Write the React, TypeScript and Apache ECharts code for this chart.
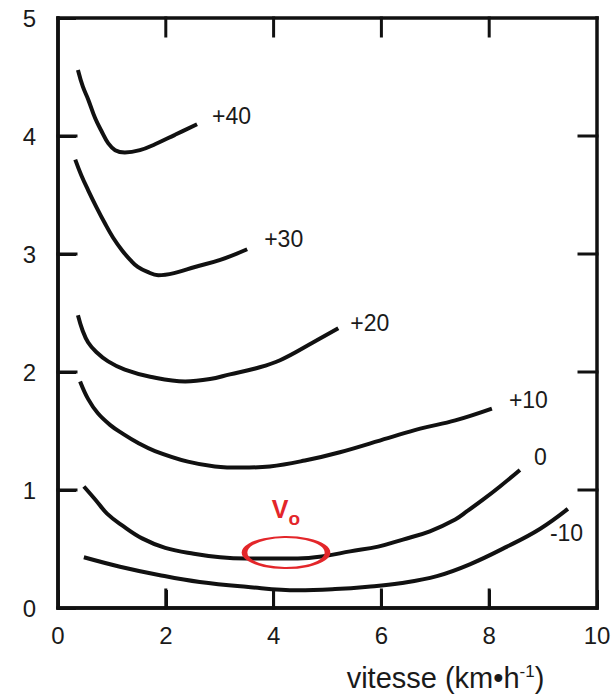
import React, { useEffect, useRef } from "react";
import * as echarts from "echarts";

// Curves: metabolic cost vs speed, for slopes in %
const names = ["+40", "+30", "+20", "+10", "0", "-10"];

const x40 = [0.37, 0.46, 0.56, 0.69, 0.82, 0.93, 1.06, 1.24, 1.52, 1.8, 2.17, 2.58];
const y40 = [4.56, 4.42, 4.31, 4.15, 4.03, 3.94, 3.88, 3.86, 3.88, 3.93, 4.01, 4.1];

const x30 = [0.32, 0.43, 0.56, 0.71, 0.87, 1.02, 1.19, 1.34, 1.48, 1.65, 1.86, 2.17, 2.54, 3.01, 3.51];
const y30 = [3.8, 3.67, 3.54, 3.4, 3.26, 3.14, 3.03, 2.95, 2.89, 2.85, 2.82, 2.84, 2.89, 2.95, 3.04];

const x20 = [0.37, 0.45, 0.56, 0.71, 0.93, 1.24, 1.71, 2.36, 2.82, 3.19, 3.66, 4.12, 4.73, 5.2];
const y20 = [2.48, 2.36, 2.25, 2.17, 2.09, 2.02, 1.96, 1.92, 1.94, 1.98, 2.03, 2.1, 2.25, 2.37];

const x10 = [0.41, 0.56, 0.74, 0.97, 1.19, 1.48, 1.8, 2.41, 2.91, 3.41, 3.93, 4.58, 5.23, 6.12, 6.72, 7.37, 8.05];
const y10 = [1.92, 1.77, 1.65, 1.55, 1.48, 1.4, 1.33, 1.24, 1.2, 1.19, 1.2, 1.25, 1.32, 1.44, 1.52, 1.59, 1.69];

const x0 = [0.48, 0.69, 0.91, 1.19, 1.56, 1.99, 2.52, 3.01, 3.49, 3.97, 4.45, 4.95, 5.42, 5.94, 6.4, 6.9, 7.37, 7.59, 7.89, 8.2, 8.57];
const y0 = [1.03, 0.92, 0.8, 0.7, 0.59, 0.51, 0.46, 0.43, 0.42, 0.42, 0.42, 0.44, 0.48, 0.52, 0.58, 0.65, 0.75, 0.82, 0.92, 1.03, 1.17];

const xm10 = [0.48, 1.15, 1.87, 2.63, 3.49, 4.45, 5.14, 5.75, 6.35, 7.03, 7.64, 8.33, 8.94, 9.46];
const ym10 = [0.43, 0.35, 0.28, 0.22, 0.18, 0.15, 0.16, 0.18, 0.21, 0.27, 0.37, 0.52, 0.67, 0.84];

const xsList = [x40, x30, x20, x10, x0, xm10];
const ysList = [y40, y30, y20, y10, y0, ym10];

// optimal speed marker (V_o)
const voX = 4.23;
const voY = 0.47;

// axis ranges and inner tick values
const xMin = 0;
const xMax = 10;
const xStep = 2;
const yMin = 0;
const yMax = 5;
const yStep = 1;
const xInnerTicks = [2, 4, 6, 8];
const yInnerTicks = [1, 2, 3, 4];

// label offsets (styling only)
const labelOffsets: [number, number][] = [
  [15, -8],
  [17, -10],
  [12, -5],
  [17, -9],
  [14, -13],
  [-18, 24],
];

const FONT = '"Liberation Sans", Arial, Helvetica, sans-serif';
const RED = "#e3262a";
const INK = "#111111";
const TXT = "#1a1a1a";

// grid geometry (pixels) and tick length
const G_LEFT = 58;
const G_RIGHT = 16;
const G_TOP = 18;
const G_BOTTOM = 86;
const W = 613;
const H = 694;
const TICK_LEN = 18;

export default function App() {
  const ref = useRef<HTMLDivElement>(null);

  useEffect(() => {
    if (!ref.current) return;
    const chart = echarts.init(ref.current, null, { renderer: "svg" });

    // tick length expressed in axis units
    const xUnitPx = (W - G_LEFT - G_RIGHT) / (xMax - xMin);
    const yUnitPx = (H - G_TOP - G_BOTTOM) / (yMax - yMin);
    const tx = TICK_LEN / xUnitPx;
    const ty = TICK_LEN / yUnitPx;

    const curveSeries = names.map((n, i) => ({
      type: "line",
      name: n,
      data: xsList[i].map((x, j) => [x, ysList[i][j]]),
      showSymbol: false,
      symbol: "none",
      smooth: 0.4,
      lineStyle: { color: INK, width: 4 },
      endLabel: {
        show: true,
        formatter: n,
        distance: 0,
        offset: labelOffsets[i],
        fontSize: 23,
        fontFamily: FONT,
        color: TXT,
      },
      silent: true,
      z: 3,
    }));

    // frame edges and inward ticks as straight line series (through the axes' scales)
    const segs: { pts: number[][]; w: number }[] = [
      { pts: [[xMin, yMin], [xMax, yMin]], w: 3.5 },
      { pts: [[xMin, yMax], [xMax, yMax]], w: 3.5 },
      { pts: [[xMin, yMin], [xMin, yMax]], w: 3.5 },
      { pts: [[xMax, yMin], [xMax, yMax]], w: 3.5 },
    ];
    xInnerTicks.forEach((v) => {
      segs.push({ pts: [[v, yMin], [v, yMin + ty]], w: 3 });
      segs.push({ pts: [[v, yMax], [v, yMax - ty]], w: 3 });
    });
    yInnerTicks.forEach((v) => {
      segs.push({ pts: [[xMin, v], [xMin + tx, v]], w: 3 });
      segs.push({ pts: [[xMax, v], [xMax - tx, v]], w: 3 });
    });
    const frameSeries = segs.map((s) => ({
      type: "line",
      data: s.pts,
      showSymbol: false,
      symbol: "none",
      clip: false,
      silent: true,
      lineStyle: { color: INK, width: s.w, cap: "square" },
      z: 10,
    }));

    chart.setOption({
      animation: false,
      backgroundColor: "#ffffff",
      grid: {
        left: G_LEFT,
        right: G_RIGHT,
        top: G_TOP,
        bottom: G_BOTTOM,
        containLabel: false,
        outerBoundsMode: "none",
        show: false,
      },
      xAxis: {
        type: "value",
        min: xMin,
        max: xMax,
        interval: xStep,
        axisLine: { show: true, lineStyle: { color: INK, width: 3.5 } },
        axisTick: { show: true, inside: true, length: TICK_LEN, lineStyle: { color: INK, width: 3 } },
        splitLine: { show: false },
        axisLabel: { margin: 15, fontSize: 24, fontFamily: FONT, color: TXT },
        name: "{a|vitesse (km•h}{s|-1}{a|)}",
        nameLocation: "middle",
        nameGap: 55,
        nameTextStyle: {
          padding: [0, 0, 0, 236],
          fontFamily: FONT,
          rich: {
            a: { fontSize: 29, lineHeight: 28, fontFamily: FONT, color: TXT, verticalAlign: "bottom" },
            s: {
              fontSize: 17,
              fontFamily: FONT,
              color: TXT,
              verticalAlign: "bottom",
              padding: [0, 0, 12, 0],
            },
          },
        },
      },
      yAxis: {
        type: "value",
        min: yMin,
        max: yMax,
        interval: yStep,
        axisLine: { show: true, lineStyle: { color: INK, width: 3.5 } },
        axisTick: { show: true, inside: true, length: TICK_LEN, lineStyle: { color: INK, width: 3 } },
        splitLine: { show: false },
        axisLabel: { margin: 22, fontSize: 24, fontFamily: FONT, color: TXT },
      },
      series: [
        ...curveSeries,
        ...frameSeries,
        {
          type: "scatter",
          data: [[voX, voY]],
          symbol: "circle",
          symbolSize: [83, 31],
          itemStyle: { color: "rgba(0,0,0,0)", borderColor: RED, borderWidth: 3.5, opacity: 1 },
          label: {
            show: true,
            position: "top",
            distance: 8,
            formatter: "{v|V}{o|o}",
            rich: {
              v: {
                fontSize: 25,
                fontWeight: "bold",
                fontFamily: FONT,
                color: RED,
                verticalAlign: "bottom",
                padding: [0, 0, 6, 0],
              },
              o: {
                fontSize: 19,
                fontWeight: "bold",
                fontFamily: FONT,
                color: RED,
                verticalAlign: "bottom",
              },
            },
          },
          silent: true,
          z: 5,
        },
      ],
    });

    return () => chart.dispose();
  }, []);

  return (
    <div
      ref={ref}
      style={{ position: "fixed", left: 0, top: 0, width: W, height: H, background: "#fff" }}
    />
  );
}
